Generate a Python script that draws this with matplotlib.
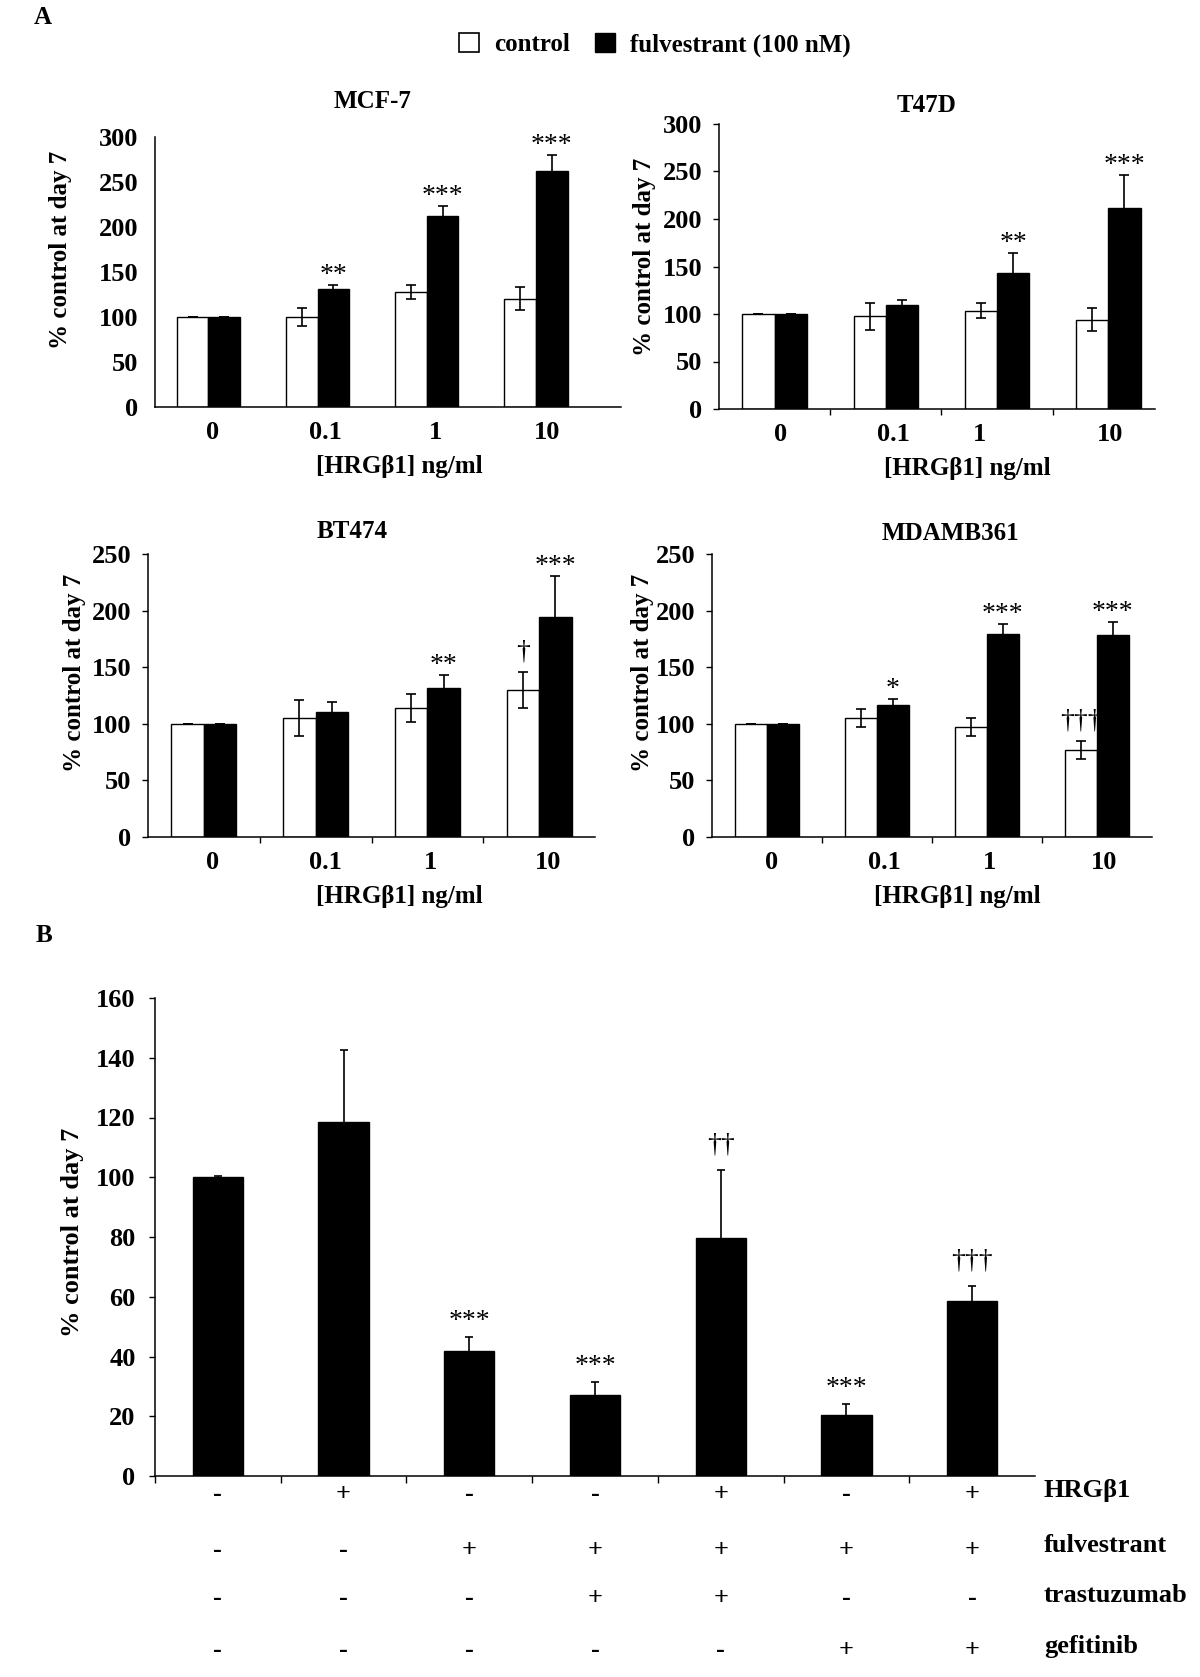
import numpy as np
import matplotlib
matplotlib.use('Agg')
import matplotlib.pyplot as plt
from matplotlib.patches import Patch
from matplotlib.transforms import blended_transform_factory

plt.rcParams['font.family'] = ['Liberation Serif', 'DejaVu Serif']
plt.rcParams['font.weight'] = 'bold'
plt.rcParams['axes.labelweight'] = 'bold'

# ---- data, panel A (% control at day 7) ----
doses = ['0', '0.1', '1', '10']

mcf7_ctrl = [100, 100, 128, 120.5]
mcf7_ctrl_err = [0, 10, 8, 13]
mcf7_fulv = [100, 131.5, 212.5, 262.5]
mcf7_fulv_err = [0, 4, 11, 17]
mcf7_sig_ctrl = ['', '', '', '']
mcf7_sig_fulv = ['', '**', '***', '***']

t47d_ctrl = [100, 97.5, 103.5, 94]
t47d_ctrl_err = [0, 14, 8, 12]
t47d_fulv = [100, 110, 143, 211.5]
t47d_fulv_err = [0, 5, 21, 35]
t47d_sig_ctrl = ['', '', '', '']
t47d_sig_fulv = ['', '', '**', '***']

bt474_ctrl = [100, 105, 114, 130]
bt474_ctrl_err = [0, 16, 12.5, 16]
bt474_fulv = [100, 110, 131.5, 194.5]
bt474_fulv_err = [0, 9.5, 11.5, 36]
bt474_sig_ctrl = ['', '', '', '\u2020']
bt474_sig_fulv = ['', '', '**', '***']

mda_ctrl = [100, 105, 97, 77]
mda_ctrl_err = [0, 8, 8, 8]
mda_fulv = [100, 117, 179, 178.5]
mda_fulv_err = [0, 5, 9, 11]
mda_sig_ctrl = ['', '', '', '\u2020\u2020\u2020']
mda_sig_fulv = ['', '*', '***', '***']

# ---- data, panel B ----
b_values = [100, 118.5, 42, 27, 79.5, 20.5, 58.5]
b_err = [0.5, 24, 4.5, 4.5, 23, 3.7, 5]
b_sig = ['', '', '***', '***', '\u2020\u2020', '***', '\u2020\u2020\u2020']
row_names = ['HRG\u03b21', 'fulvestrant', 'trastuzumab', 'gefitinib']
hrg = ['-', '+', '-', '-', '+', '-', '+']
fulvestrant = ['-', '-', '+', '+', '+', '+', '+']
trastuzumab = ['-', '-', '-', '+', '+', '-', '-']
gefitinib = ['-', '-', '-', '-', '-', '+', '+']

W, H = 1200, 1677
fig = plt.figure(figsize=(W / 100, H / 100), dpi=100)


def box(l, t, r, b):
    return [l / W, 1 - b / H, (r - l) / W, (b - t) / H]


def fxy(x, y):
    return x / W, 1 - y / H


def sig_offset(s):
    return -2 if '*' in s else 5


ekw = dict(ecolor='black', elinewidth=1.2, capsize=3.5, capthick=1.2)
SIG_SIZE = 20


def draw_panel(rect, title, title_xy, ctrl, ctrl_err, fulv, fulv_err, sig_ctrl, sig_fulv,
               ymax, xlim, xt, ylab_xy, xlab_xy, minor=True, ytick_len=4):
    ax = fig.add_axes(rect)
    x = np.arange(len(doses))
    w = 0.29
    ax.bar(x - w / 2, ctrl, w, yerr=ctrl_err, color='white', edgecolor='black',
           linewidth=1, error_kw=ekw)
    ax.bar(x + w / 2, fulv, w, yerr=fulv_err, color='black', edgecolor='black',
           linewidth=1, error_kw=ekw)
    for i in range(len(doses)):
        if sig_ctrl[i]:
            ax.annotate(sig_ctrl[i], (x[i] - w / 2, ctrl[i] + ctrl_err[i]),
                        xytext=(0, sig_offset(sig_ctrl[i])), textcoords='offset points',
                        ha='center', va='bottom', fontsize=SIG_SIZE, fontweight='normal')
        if sig_fulv[i]:
            ax.annotate(sig_fulv[i], (x[i] + w / 2, fulv[i] + fulv_err[i]),
                        xytext=(0, sig_offset(sig_fulv[i])), textcoords='offset points',
                        ha='center', va='bottom', fontsize=SIG_SIZE, fontweight='normal')
    ax.set_xlim(*xlim)
    ax.set_ylim(0, ymax)
    ax.set_yticks(np.arange(0, ymax + 1, 50))
    ax.set_xticks(xt)
    ax.set_xticklabels(doses)
    if minor:
        ax.set_xticks([0.5, 1.5, 2.5], minor=True)
    ax.tick_params(axis='x', which='major', length=0, pad=10, labelsize=19)
    ax.tick_params(axis='x', which='minor', length=4, width=1, direction='out')
    ax.tick_params(axis='y', length=ytick_len, width=1, pad=12 - ytick_len, labelsize=19)
    for s in ['top', 'right']:
        ax.spines[s].set_visible(False)
    for s in ['left', 'bottom']:
        ax.spines[s].set_linewidth(1.1)
    fig.text(*fxy(*title_xy), title, ha='center', va='center', fontsize=18)
    fig.text(*fxy(*ylab_xy), '% control at day 7', ha='center', va='center',
             rotation=90, fontsize=18)
    fig.text(*fxy(*xlab_xy), '[HRG\u03b21] ng/ml', ha='center', va='center', fontsize=18)
    return ax


draw_panel(box(155, 137, 621, 407), 'MCF-7', (373, 102), mcf7_ctrl, mcf7_ctrl_err,
           mcf7_fulv, mcf7_fulv_err, mcf7_sig_ctrl, mcf7_sig_fulv, 300, (-0.49, 3.78),
           [0.04, 1.07, 2.08, 3.1], (61, 250), (399, 466), minor=False, ytick_len=0)
draw_panel(box(719, 124, 1155, 409), 'T47D', (927, 105), t47d_ctrl, t47d_ctrl_err,
           t47d_fulv, t47d_fulv_err, t47d_sig_ctrl, t47d_sig_fulv, 300, (-0.5, 3.42),
           [0.05, 1.07, 1.84, 3.02], (644, 257), (967, 468))
draw_panel(box(148, 554, 595, 837), 'BT474', (352, 532), bt474_ctrl, bt474_ctrl_err,
           bt474_fulv, bt474_fulv_err, bt474_sig_ctrl, bt474_sig_fulv, 250, (-0.5, 3.5),
           [0.08, 1.09, 2.03, 3.08], (75, 673), (399, 896))
draw_panel(box(712, 554, 1152, 837), 'MDAMB361', (950, 533), mda_ctrl, mda_ctrl_err,
           mda_fulv, mda_fulv_err, mda_sig_ctrl, mda_sig_fulv, 250, (-0.5, 3.5),
           [0.04, 1.07, 2.02, 3.06], (642, 673), (957, 896))

# legend for panel A
handles = [Patch(facecolor='white', edgecolor='black', linewidth=1.2, label='control'),
           Patch(facecolor='black', edgecolor='black', label='fulvestrant (100 nM)')]
fig.legend(handles=handles, loc='center', bbox_to_anchor=fxy(655, 45), ncol=2,
           frameon=False, fontsize=18, handlelength=0.8, handleheight=0.8,
           handletextpad=0.6, columnspacing=1.0)

fig.text(*fxy(43, 17), 'A', ha='center', va='center', fontsize=18)
fig.text(*fxy(44, 936), 'B', ha='center', va='center', fontsize=18)

# ---- panel B ----
axb = fig.add_axes(box(155, 998, 1035, 1476))
xb = np.arange(len(b_values))
axb.bar(xb, b_values, 0.4, yerr=b_err, color='black', edgecolor='black',
        error_kw=dict(ecolor='black', elinewidth=1.2, capsize=3, capthick=1.2))
for i, s in enumerate(b_sig):
    if s:
        axb.annotate(s, (xb[i], b_values[i] + b_err[i]), xytext=(0, sig_offset(s) + 4),
                     textcoords='offset points', ha='center', va='bottom',
                     fontsize=SIG_SIZE, fontweight='normal')
axb.set_xlim(-0.5, 6.5)
axb.set_ylim(0, 160)
axb.set_yticks(np.arange(0, 161, 20))
axb.set_xticks([])
axb.set_xticks(np.arange(-0.5, 6.0, 1.0), minor=True)
axb.tick_params(axis='x', which='minor', length=5, width=1, direction='out')
axb.tick_params(axis='y', length=4, width=1, pad=10, labelsize=19)
for s in ['top', 'right']:
    axb.spines[s].set_visible(False)
for s in ['left', 'bottom']:
    axb.spines[s].set_linewidth(1.1)
fig.text(*fxy(73, 1232), '% control at day 7', ha='center', va='center',
         rotation=90, fontsize=19)

trans = blended_transform_factory(axb.transData, fig.transFigure)
row_y = [1490, 1546, 1595, 1647]
for name, signs, y in zip(row_names, [hrg, fulvestrant, trastuzumab, gefitinib], row_y):
    for i, v in enumerate(signs):
        axb.text(xb[i], 1 - (y + 4) / H, v, transform=trans, ha='center', va='center',
                 fontsize=19)
    fig.text(1044 / W, 1 - y / H, name, ha='left', va='center', fontsize=19)

fig.savefig('out.png', dpi=100, facecolor='white')
